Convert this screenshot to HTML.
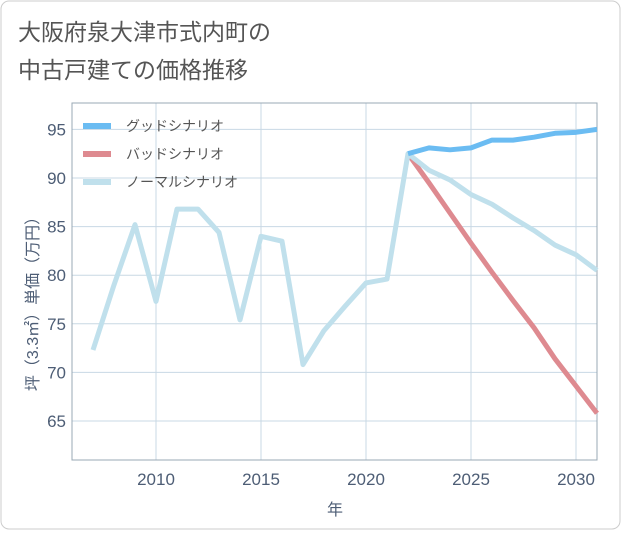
<!DOCTYPE html>
<html><head><meta charset="utf-8"><style>
body{margin:0;background:#fff;font-family:"Liberation Sans","Noto Sans CJK JP",sans-serif;}
#wrap{position:relative;width:621px;height:530px;}
</style></head><body>
<div id="wrap">
<svg id="chart" width="621" height="530" xmlns="http://www.w3.org/2000/svg">
<rect x="1" y="1" width="619" height="528" rx="8" fill="#fff" stroke="#ccc"/>
<text x="18" y="40" font-size="23" fill="#555">大阪府泉大津市式内町の</text>
<text x="18" y="78" font-size="23" fill="#555">中古戸建ての価格推移</text>
<g id="grid"></g>
<g id="series"></g>
<g id="legend"></g>
<text x="335" y="515" font-size="16" fill="#4d5d75" text-anchor="middle">年</text>
<text transform="translate(38,300) rotate(-90)" font-size="16" fill="#4d5d75" text-anchor="middle">坪（3.3㎡）単価（万円）</text>
</svg>
</div>
<script>
const years=[2007,2008,2009,2010,2011,2012,2013,2014,2015,2016,2017,2018,2019,2020,2021,2022,2023,2024,2025,2026,2027,2028,2029,2030,2031];
const normal=[72.3,79,85.2,77.3,86.8,86.8,84.4,75.4,84,83.5,70.8,74.3,76.8,79.2,79.6,92.5,90.8,89.8,88.3,87.3,85.9,84.6,83.1,82.1,80.5];
const goodYears=[2022,2023,2024,2025,2026,2027,2028,2029,2030,2031];
const good=[92.5,93.1,92.9,93.1,93.9,93.9,94.2,94.6,94.7,95.0];
const bad=[92.5,89.5,86.4,83.3,80.3,77.4,74.6,71.4,68.6,65.8];
const xTicks=[2010,2015,2020,2025,2030];
const yTicks=[65,70,75,80,85,90,95];
const legendLabels=["グッドシナリオ","バッドシナリオ","ノーマルシナリオ"];
const NS="http://www.w3.org/2000/svg";
const L=72,R=597,T=103,B=460;
const xs=y=>L+(y-2006)*(R-L)/25;
const ys=v=>178+(90-v)*9.72;
function mk(tag,attrs,parent){const e=document.createElementNS(NS,tag);for(const k in attrs)e.setAttribute(k,attrs[k]);parent.appendChild(e);return e;}
const grid=document.getElementById('grid');
for(const t of xTicks){
 const l=mk('line',{x1:xs(t),x2:xs(t),y1:T,y2:B,stroke:'#c8d8e4','stroke-width':1},grid);
 
 
 const tx=mk('text',{x:xs(t),y:B+25,'font-size':17,fill:'#4d5d75','text-anchor':'middle'},grid);
 tx.textContent=t;
 
 
}
for(const t of yTicks){
 const l=mk('line',{x1:L,x2:R,y1:ys(t),y2:ys(t),stroke:'#c8d8e4','stroke-width':1},grid);
 
 
 const tx=mk('text',{x:L-6,y:ys(t)+6,'font-size':17,fill:'#4d5d75','text-anchor':'end'},grid);
 tx.textContent=t;
 
 
}
const fr=mk('rect',{x:L,y:T,width:R-L,height:B-T,fill:'none',stroke:'#9aa8b4','stroke-width':1},grid);


const ser=document.getElementById('series');
function line(xv,yv,color,name){
 const p=mk('polyline',{points:xv.map((x,i)=>xs(x)+','+ys(yv[i])).join(' '),fill:'none',stroke:color,'stroke-width':5,'stroke-linejoin':'round'},ser);
 
 
}
line(goodYears,bad,'#de8a90','bad-scenario-line');
line(years,normal,'#c0e0ec','normal-scenario-line');
line(goodYears,good,'#6bbcf2','good-scenario-line');
const lg=document.getElementById('legend');
const cols=['#6bbcf2','#de8a90','#c0e0ec'];
legendLabels.forEach((s,i)=>{
 const y=126+i*28;
 const r=mk('rect',{x:83,y:y-3,width:28,height:6,fill:cols[i]},lg);
 
 
 const t=mk('text',{x:126,y:y+5,'font-size':14,fill:'#555'},lg);
 t.textContent=s;
 
 
});
</script>
</body></html>
